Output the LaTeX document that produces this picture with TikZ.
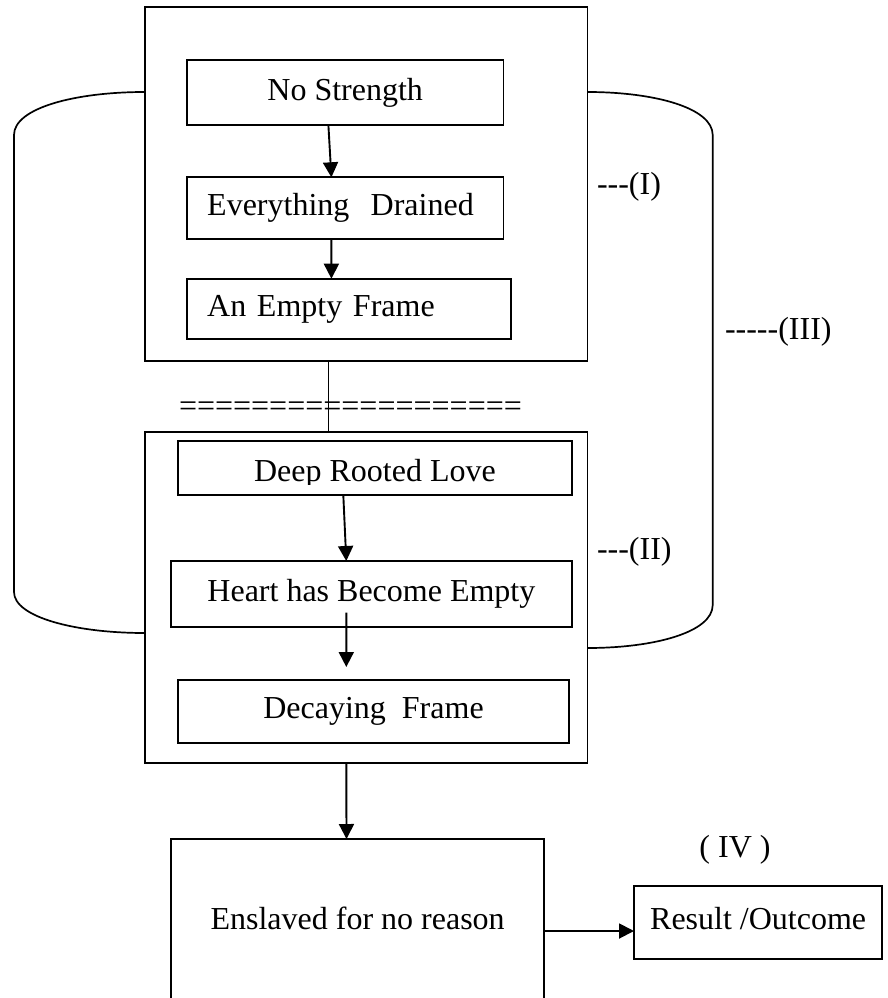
\documentclass[tikz,border=0pt]{standalone}
\usepackage{fontspec}
\setmainfont{Liberation Serif}
\usetikzlibrary{arrows.meta,calc}
\begin{document}
\begin{tikzpicture}[x=1pt,y=-1pt,
  txt/.style={font=\fontsize{32}{38}\selectfont, inner sep=0pt, outer sep=0pt},
  boxnode/.style={txt, draw, line width=1.7pt, rectangle, text height=22pt, text depth=7pt},
  conn/.style={line width=1.9pt, -{Triangle[width=15pt,length=15pt]}},
  plain/.style={line width=1.7pt},
  brk/.style={line width=1.7pt}]
\clip (0,0) rectangle (888,998);
\fill[white] (0,0) rectangle (888,998);

% outer boxes
\node[boxnode, minimum width=442.7, minimum height=353.7] (topbox) at (366.05,184.15) {};
\node[boxnode, minimum width=442.7, minimum height=331] (lowbox) at (366.05,597.2) {};

% top group
\node[boxnode, minimum width=316.8, minimum height=65.3] (ns) at (345.2,92.65) {No Strength};
\node[boxnode, minimum width=316.8, minimum height=61.7, text width=276pt, inner xsep=20.4pt, align=left] (ed) at (345.2,208.15) {Everything\ \ Drained};
\node[boxnode, minimum width=324.5, minimum height=60.3, text width=283.7pt, inner xsep=20.4pt, align=left] (ef) at (349.05,308.85) {An Empty Frame};

% lower group
\begin{scope}
\clip (178,441) rectangle (572,484);
\node[txt, anchor=base] (drltext) at (374.9,481.7) {Deep Rooted Love};
\end{scope}
\node[boxnode, minimum width=393.8, minimum height=54] (drl) at (374.9,468) {};
\node[boxnode, minimum width=400.8, minimum height=65.7] (hb) at (371.4,593.85) {Heart has Become Empty};
\node[boxnode, minimum width=391, minimum height=62.7] (dec) at (373.5,711.35) {Decaying\ \ Frame};

% bottom
\node[boxnode, minimum width=373.3, minimum height=166] (ens) at (357.65,922) {Enslaved for no reason};
\node[boxnode, minimum width=248.3, minimum height=73.3] (res) at (758.15,922.35) {Result /Outcome};

% separator
\node[txt, anchor=base west] (sep) at (179,416) {===================};

% labels
\node[txt, anchor=west] (l1) at (597,187) {-{}-{}-(I)};
\node[txt, anchor=west] (l2) at (597,552) {-{}-{}-(II)};
\node[txt, anchor=west] (l3) at (725,332) {-{}-{}-{}-{}-(III)};
\node[txt] (l4) at (735,850) {( IV )};

% connectors
\draw[conn] ([xshift=-16.8pt]ns.south) -- ([xshift=-13.8pt]ed.north);
\draw[conn] ([xshift=-13.8pt]ed.south) -- ([xshift=-17.65pt]ef.north);
\draw[plain] ([xshift=-37.65pt]topbox.south) -- ([xshift=-37.65pt]lowbox.north);
\draw[conn] ([xshift=-31.6pt]drl.south) -- ([xshift=-25.1pt]hb.north);
\draw[conn] ([xshift=-25.1pt,yshift=14pt]hb.south) -- ([xshift=-27.2pt,yshift=13pt]dec.north);
\draw[conn] ([xshift=-19.75pt]lowbox.south) -- ([xshift=-11.15pt]ens.north);
\draw[conn] ([yshift=-9pt]ens.east) -- ([yshift=-9pt]ens.east -| res.west);

% brackets
\coordinate (ltop) at (topbox.west |- 0,92);
\coordinate (lbot) at (lowbox.west |- 0,633);
\coordinate (rtop) at (topbox.east |- 0,92);
\coordinate (rbot) at (lowbox.east |- 0,648);
\draw[brk] (ltop) .. controls (75,92) and (14,108) .. (14,135) -- (14,592) .. controls (14,617) and (75,633) .. (lbot);
\draw[brk] (rtop) .. controls (655,92) and (712.7,108) .. (712.7,135) -- (712.7,605) .. controls (712.7,632) and (655,648) .. (rbot);
\end{tikzpicture}
\end{document}
